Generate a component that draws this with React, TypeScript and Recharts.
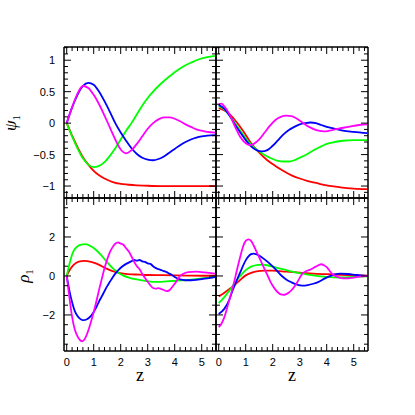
import React from 'react';
import { LineChart, Line, XAxis, YAxis } from 'recharts';

type Pt = [number, number];

// tick labels
const zMajor = [0, 1, 2, 3, 4, 5];
const psiMajor = [-1, -0.5, 0, 0.5, 1];
const rhoMajor = [-2, 0, 2];

// psi_1, left column
const psiLRed: Pt[] = [[0, 0], [0.2, -0.2], [0.4, -0.38], [0.6, -0.54], [0.8, -0.66], [1.0, -0.76], [1.2, -0.83], [1.4, -0.88], [1.6, -0.92], [1.8, -0.95], [2.0, -0.965], [2.5, -0.985], [3.0, -0.995], [3.5, -1], [4.5, -1], [5.5, -1]];
const psiLGreen: Pt[] = [[0, 0], [0.2, -0.21], [0.4, -0.4], [0.6, -0.56], [0.8, -0.66], [1.0, -0.7], [1.2, -0.68], [1.4, -0.62], [1.6, -0.52], [1.8, -0.4], [2.0, -0.26], [2.2, -0.12], [2.4, 0.0], [2.6, 0.14], [2.8, 0.28], [3.0, 0.4], [3.2, 0.5], [3.4, 0.59], [3.6, 0.67], [3.8, 0.74], [4.0, 0.81], [4.2, 0.87], [4.4, 0.92], [4.6, 0.96], [4.8, 1.0], [5.0, 1.03], [5.2, 1.05], [5.5, 1.07]];
const psiLBlue: Pt[] = [[0, 0], [0.2, 0.25], [0.4, 0.45], [0.6, 0.59], [0.8, 0.64], [1.0, 0.61], [1.2, 0.5], [1.4, 0.35], [1.6, 0.18], [1.8, 0.0], [2.0, -0.15], [2.2, -0.28], [2.4, -0.4], [2.6, -0.49], [2.8, -0.55], [3.0, -0.58], [3.2, -0.59], [3.4, -0.57], [3.6, -0.53], [3.8, -0.47], [4.0, -0.41], [4.2, -0.35], [4.4, -0.3], [4.6, -0.26], [4.8, -0.23], [5.0, -0.21], [5.2, -0.2], [5.5, -0.19]];
const psiLMagenta: Pt[] = [[0, 0], [0.2, 0.25], [0.4, 0.47], [0.6, 0.59], [0.8, 0.56], [1.0, 0.45], [1.2, 0.3], [1.4, 0.12], [1.6, -0.07], [1.8, -0.26], [2.0, -0.42], [2.2, -0.48], [2.4, -0.43], [2.6, -0.33], [2.8, -0.21], [3.0, -0.09], [3.2, 0.0], [3.4, 0.06], [3.6, 0.09], [3.8, 0.09], [4.0, 0.07], [4.2, 0.03], [4.4, -0.02], [4.6, -0.06], [4.8, -0.1], [5.0, -0.12], [5.2, -0.14], [5.5, -0.15]];

// psi_1, right column
const psiRRed: Pt[] = [[0, 0.24], [0.3, 0.18], [0.6, 0.05], [0.9, -0.12], [1.2, -0.32], [1.5, -0.47], [1.8, -0.59], [2.1, -0.68], [2.4, -0.76], [2.7, -0.83], [3.0, -0.88], [3.3, -0.92], [3.6, -0.95], [4.0, -0.99], [4.5, -1.02], [5.0, -1.04], [5.5, -1.05]];
const psiRGreen: Pt[] = [[0, 0.27], [0.2, 0.22], [0.4, 0.12], [0.6, 0.0], [0.8, -0.12], [1.0, -0.24], [1.2, -0.34], [1.4, -0.42], [1.6, -0.48], [1.8, -0.53], [2.0, -0.57], [2.2, -0.6], [2.4, -0.61], [2.6, -0.61], [2.8, -0.59], [3.0, -0.55], [3.2, -0.51], [3.4, -0.46], [3.6, -0.41], [3.8, -0.37], [4.0, -0.33], [4.3, -0.3], [4.6, -0.28], [5.0, -0.27], [5.5, -0.27]];
const psiRBlue: Pt[] = [[0, 0.29], [0.2, 0.23], [0.4, 0.12], [0.6, -0.02], [0.8, -0.15], [1.0, -0.27], [1.2, -0.37], [1.4, -0.43], [1.6, -0.45], [1.8, -0.43], [2.0, -0.36], [2.2, -0.27], [2.4, -0.18], [2.6, -0.11], [2.8, -0.06], [3.0, -0.02], [3.2, 0.0], [3.4, 0.01], [3.6, 0.0], [3.8, -0.03], [4.0, -0.06], [4.3, -0.09], [4.6, -0.12], [5.0, -0.14], [5.5, -0.16]];
const psiRMagenta: Pt[] = [[0, 0.3], [0.1, 0.31], [0.2, 0.27], [0.4, 0.14], [0.6, -0.05], [0.8, -0.22], [1.0, -0.32], [1.15, -0.35], [1.3, -0.33], [1.5, -0.26], [1.7, -0.15], [1.9, -0.04], [2.1, 0.05], [2.3, 0.1], [2.5, 0.12], [2.7, 0.11], [2.9, 0.07], [3.1, 0.01], [3.3, -0.05], [3.5, -0.09], [3.7, -0.12], [3.9, -0.13], [4.1, -0.12], [4.4, -0.09], [4.8, -0.06], [5.2, -0.03], [5.5, -0.02]];

// rho_1, left column
const rhoLRed: Pt[] = [[0, 0], [0.1, 0.28], [0.2, 0.48], [0.3, 0.62], [0.45, 0.73], [0.65, 0.77], [0.9, 0.72], [1.1, 0.63], [1.3, 0.5], [1.5, 0.36], [1.7, 0.25], [1.9, 0.17], [2.1, 0.12], [2.4, 0.08], [2.7, 0.07], [3.0, 0.05], [3.5, 0.04], [4.0, 0.03], [4.5, 0.02], [5.0, 0.01], [5.5, 0.01]];
const rhoLGreen: Pt[] = [[0, 0], [0.1, 0.6], [0.2, 1.1], [0.3, 1.38], [0.4, 1.52], [0.5, 1.6], [0.7, 1.63], [0.9, 1.52], [1.1, 1.32], [1.3, 1.03], [1.5, 0.7], [1.7, 0.4], [1.9, 0.18], [2.1, 0.02], [2.3, -0.08], [2.6, -0.18], [2.9, -0.25], [3.2, -0.3], [3.5, -0.3], [3.8, -0.27], [4.1, -0.24], [4.4, -0.22], [4.7, -0.18], [5.0, -0.13], [5.5, -0.05]];
const rhoLBlue: Pt[] = [[0, 0], [0.1, -0.75], [0.2, -1.35], [0.3, -1.8], [0.4, -2.05], [0.5, -2.2], [0.62, -2.27], [0.75, -2.22], [0.9, -2.05], [1.0, -1.85], [1.1, -1.6], [1.2, -1.3], [1.3, -1.05], [1.4, -0.78], [1.5, -0.52], [1.6, -0.3], [1.7, -0.08], [1.8, 0.12], [1.9, 0.28], [2.0, 0.42], [2.2, 0.62], [2.4, 0.76], [2.5, 0.82], [2.6, 0.79], [2.7, 0.82], [2.8, 0.75], [2.9, 0.72], [3.0, 0.65], [3.1, 0.62], [3.2, 0.5], [3.3, 0.4], [3.4, 0.35], [3.5, 0.3], [3.6, 0.25], [3.7, 0.2], [3.8, 0.12], [3.9, 0.05], [4.0, -0.05], [4.2, -0.18], [4.4, -0.22], [4.6, -0.22], [4.8, -0.2], [5.0, -0.16], [5.2, -0.12], [5.5, -0.06]];
const rhoLMagenta: Pt[] = [[0, 0], [0.1, -1.1], [0.2, -2.1], [0.3, -2.75], [0.4, -3.1], [0.5, -3.3], [0.58, -3.35], [0.7, -3.15], [0.8, -2.8], [0.9, -2.35], [1.0, -1.85], [1.1, -1.3], [1.2, -0.7], [1.3, -0.15], [1.4, 0.4], [1.5, 0.85], [1.6, 1.22], [1.7, 1.48], [1.8, 1.65], [1.9, 1.72], [2.0, 1.66], [2.1, 1.6], [2.2, 1.42], [2.3, 1.25], [2.4, 1.0], [2.5, 0.72], [2.6, 0.5], [2.7, 0.35], [2.8, 0.1], [2.9, -0.1], [3.0, -0.3], [3.1, -0.48], [3.2, -0.62], [3.3, -0.65], [3.4, -0.62], [3.5, -0.67], [3.6, -0.72], [3.7, -0.78], [3.8, -0.74], [3.9, -0.58], [4.0, -0.4], [4.1, -0.2], [4.2, 0.0], [4.3, 0.1], [4.5, 0.2], [4.8, 0.22], [5.1, 0.18], [5.5, 0.12]];

// rho_1, right column
const rhoRRed: Pt[] = [[0, -1.05], [0.2, -0.87], [0.4, -0.67], [0.6, -0.45], [0.8, -0.2], [1.0, 0.03], [1.2, 0.16], [1.4, 0.23], [1.7, 0.27], [2.0, 0.27], [2.5, 0.22], [3.0, 0.17], [3.5, 0.12], [4.0, 0.09], [4.5, 0.06], [5.0, 0.04], [5.5, 0.02]];
const rhoRGreen: Pt[] = [[0, -1.4], [0.2, -1.1], [0.4, -0.75], [0.6, -0.35], [0.8, 0.0], [1.0, 0.3], [1.2, 0.48], [1.4, 0.56], [1.6, 0.58], [1.8, 0.55], [2.0, 0.48], [2.2, 0.4], [2.5, 0.3], [2.8, 0.2], [3.1, 0.12], [3.5, 0.03], [4.0, -0.05], [4.5, -0.08], [5.0, -0.05], [5.5, -0.02]];
const rhoRBlue: Pt[] = [[0, -1.95], [0.2, -1.7], [0.4, -1.2], [0.5, -0.8], [0.6, -0.45], [0.8, 0.2], [1.0, 0.8], [1.2, 1.12], [1.3, 1.15], [1.5, 1.05], [1.7, 0.85], [1.9, 0.62], [2.1, 0.35], [2.3, 0.05], [2.5, -0.18], [2.7, -0.33], [2.9, -0.45], [3.1, -0.5], [3.3, -0.47], [3.5, -0.4], [3.7, -0.3], [3.9, -0.15], [4.1, -0.02], [4.3, 0.08], [4.5, 0.12], [4.8, 0.1], [5.1, 0.05], [5.5, 0.0]];
const rhoRMagenta: Pt[] = [[0, -2.62], [0.1, -2.45], [0.2, -2.15], [0.3, -1.7], [0.4, -1.2], [0.5, -0.7], [0.6, -0.15], [0.7, 0.45], [0.8, 1.0], [0.9, 1.5], [1.0, 1.8], [1.1, 1.88], [1.2, 1.8], [1.3, 1.55], [1.4, 1.25], [1.5, 0.95], [1.6, 0.65], [1.7, 0.35], [1.8, 0.05], [1.9, -0.25], [2.0, -0.5], [2.1, -0.7], [2.2, -0.85], [2.3, -0.95], [2.4, -0.97], [2.5, -0.93], [2.6, -0.85], [2.7, -0.72], [2.8, -0.55], [2.9, -0.35], [3.0, -0.1], [3.1, 0.12], [3.2, 0.22], [3.4, 0.33], [3.6, 0.48], [3.8, 0.6], [3.9, 0.55], [4.0, 0.45], [4.2, 0.1], [4.4, -0.05], [4.6, -0.12], [4.8, -0.12], [5.0, -0.08], [5.5, 0.0]];

const colors = ['#ff0000', '#00ff00', '#0000ff', '#ff00ff'];

const W = 415;
const H = 415;
const zDomain = [-0.1, 5.53];
const psiDomain = [-1.19, 1.21];
const rhoDomain = [-3.85, 4];

// axis boxes around the plot area (tick labels are drawn by hand, so these only reserve room)
const AX_L = 30;
const AX_R = 10;
const AX_T = 10;
const AX_B = 20;

const zTicks: number[] = [];
for (let i = 0; i <= 27; i++) zTicks.push(+(i * 0.2).toFixed(2));
const psiTicks: number[] = [];
for (let i = -11; i <= 12; i++) psiTicks.push(+(i * 0.1).toFixed(2));
const rhoTicks: number[] = [];
for (let i = -7; i <= 7; i++) rhoTicks.push(i * 0.5);

const has = (arr: number[], v: number) => arr.some((m) => Math.abs(m - v) < 1e-6);
const fmt = (v: number) => (v < 0 ? '\u2212' + Math.abs(v) : String(v));

const makeTick = (side: string, major: number[], labels: number[]) => (props: any) => {
  const { x, y, payload } = props;
  const v = payload.value;
  const len = has(major, v) ? 7 : 4;
  let x2 = x;
  let y2 = y;
  if (side === 'bottom') y2 = y - len;
  if (side === 'top') y2 = y + len;
  if (side === 'left') x2 = x + len;
  if (side === 'right') x2 = x - len;
  const showLabel = has(labels, v);
  return (
    <g>
      <line x1={x} y1={y} x2={x2} y2={y2} stroke="#000" strokeWidth={1} />
      {showLabel && side === 'bottom' && (
        <text x={x} y={y + 15} textAnchor="middle" fontSize={11} fontFamily="Liberation Sans, Arial, sans-serif" fill="#000">
          {fmt(v)}
        </text>
      )}
      {showLabel && side === 'left' && (
        <text x={x - 9} y={y + 4} textAnchor="end" fontSize={11} fontFamily="Liberation Sans, Arial, sans-serif" fill="#000">
          {fmt(v)}
        </text>
      )}
    </g>
  );
};

const frame = { stroke: '#000', strokeWidth: 1.5 };

interface PanelProps {
  box: [number, number, number, number];
  yDomain: number[];
  yTicks: number[];
  yMajor: number[];
  series: Pt[][];
  xLabels: boolean;
  yLabels: boolean;
}

const Panel: React.FC<PanelProps> = ({ box, yDomain, yTicks, yMajor, series, xLabels, yLabels }) => {
  const [left, top, right, bottom] = box;
  return (
    <div style={{ position: 'absolute', left: 0, top: 0 }}>
      <LineChart width={W} height={H}
        margin={{ left: left - AX_L, top: top - AX_T, right: W - right - AX_R, bottom: H - bottom - AX_B }}>
        <XAxis xAxisId="b" dataKey="z" type="number" orientation="bottom" domain={zDomain} ticks={zTicks} interval={0}
          height={AX_B} tickSize={0} tickMargin={0} tickLine={false} axisLine={frame} allowDataOverflow
          tick={makeTick('bottom', zMajor, xLabels ? zMajor : [])} />
        <XAxis xAxisId="t" dataKey="z" type="number" orientation="top" domain={zDomain} ticks={zTicks} interval={0}
          height={AX_T} tickSize={0} tickMargin={0} tickLine={false} axisLine={frame} allowDataOverflow
          tick={makeTick('top', zMajor, [])} />
        <YAxis yAxisId="l" type="number" orientation="left" domain={yDomain} ticks={yTicks} interval={0}
          width={AX_L} tickSize={0} tickMargin={0} tickLine={false} axisLine={frame} allowDataOverflow
          tick={makeTick('left', yMajor, yLabels ? yMajor : [])} />
        <YAxis yAxisId="r" type="number" orientation="right" domain={yDomain} ticks={yTicks} interval={0}
          width={AX_R} tickSize={0} tickMargin={0} tickLine={false} axisLine={frame} allowDataOverflow
          tick={makeTick('right', yMajor, [])} />
        {series.map((s, i) => (
          <Line key={i} xAxisId="b" yAxisId="l" data={s.map(([z, v]) => ({ z, v }))} dataKey="v"
            type="monotone" stroke={colors[i]} strokeWidth={1.8} dot={false} isAnimationActive={false} />
        ))}
      </LineChart>
    </div>
  );
};

const serif = 'Liberation Serif, Times New Roman, serif';

export default function App() {
  return (
    <div style={{ position: 'absolute', left: 0, top: 0, width: W, height: H, background: '#fff' }}>
      <Panel box={[64, 47, 216, 198]} yDomain={psiDomain} yTicks={psiTicks} yMajor={psiMajor}
        series={[psiLRed, psiLGreen, psiLBlue, psiLMagenta]} xLabels={false} yLabels={true} />
      <Panel box={[216, 47, 368, 198]} yDomain={psiDomain} yTicks={psiTicks} yMajor={psiMajor}
        series={[psiRRed, psiRGreen, psiRBlue, psiRMagenta]} xLabels={false} yLabels={false} />
      <Panel box={[64, 198, 216, 351]} yDomain={rhoDomain} yTicks={rhoTicks} yMajor={rhoMajor}
        series={[rhoLRed, rhoLGreen, rhoLBlue, rhoLMagenta]} xLabels={true} yLabels={true} />
      <Panel box={[216, 198, 368, 351]} yDomain={rhoDomain} yTicks={rhoTicks} yMajor={rhoMajor}
        series={[rhoRRed, rhoRGreen, rhoRBlue, rhoRMagenta]} xLabels={true} yLabels={false} />
      <svg width={W} height={H} style={{ position: 'absolute', left: 0, top: 0, pointerEvents: 'none' }}>
        <text transform="rotate(-90 16 123)" x={16} y={123} textAnchor="middle" fontFamily={serif} fontSize={17} fontStyle="italic">
          ψ<tspan dy={4} fontSize={11} fontStyle="normal">1</tspan>
        </text>
        <text transform="rotate(-90 29 276)" x={29} y={276} textAnchor="middle" fontFamily={serif} fontSize={17} fontStyle="italic">
          ρ<tspan dy={4} fontSize={11} fontStyle="normal">1</tspan>
        </text>
        <text x={140} y={381} textAnchor="middle" fontFamily={serif} fontSize={18}>z</text>
        <text x={292} y={381} textAnchor="middle" fontFamily={serif} fontSize={18}>z</text>
      </svg>
    </div>
  );
}
